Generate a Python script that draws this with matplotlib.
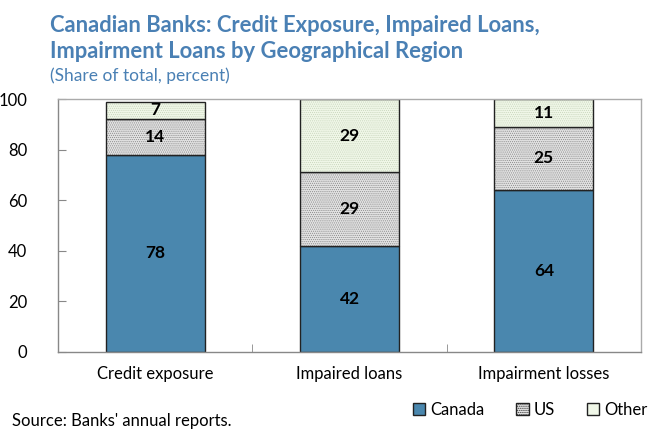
import matplotlib.pyplot as plt
import matplotlib
import numpy as np
from matplotlib.patches import Patch
matplotlib.use('Agg')

plt.rcParams['font.family'] = ['Lato', 'DejaVu Sans']
plt.rcParams['hatch.linewidth'] = 0.5

categories = ["Credit exposure", "Impaired loans", "Impairment losses"]
canada = [78, 42, 64]
us = [14, 29, 25]
other = [7, 29, 11]
yticks = [0, 20, 40, 60, 80, 100]

blue = "#4a87ae"
title_blue = "#4a80b4"
us_face, us_hatch = "#e2e2e2", "#8a8a8a"
oth_face, oth_hatch = "#f0f7e8", "#c9d6bd"

fig = plt.figure(figsize=(6.49, 4.30), dpi=100)
ax = fig.add_axes([58/649, 1-352/430, 583/649, 253/430])

x = np.arange(len(categories))
w = 0.51
canada = np.array(canada)
us = np.array(us)
other = np.array(other)

ax.bar(x, canada, w, color=blue, edgecolor="#222222", linewidth=1.0)
# tarama rengi edgecolor'dan geliyor, o yüzden çerçeveyi ayrı çiziyoruz
ax.bar(x, us, w, bottom=canada, color=us_face, edgecolor=us_hatch,
       linewidth=0, hatch="........")
ax.bar(x, us, w, bottom=canada, fill=False, edgecolor="#222222", linewidth=1.0)
ax.bar(x, other, w, bottom=canada+us, color=oth_face, edgecolor=oth_hatch,
       linewidth=0, hatch="........")
ax.bar(x, other, w, bottom=canada+us, fill=False, edgecolor="#222222", linewidth=1.0)

# etiketler
for i in range(len(categories)):
    ax.text(x[i], canada[i]/2, str(canada[i]), ha="center", va="center",
            fontsize=12.5, fontweight="bold", color="black")
    ax.text(x[i], canada[i]+us[i]/2, str(us[i]), ha="center", va="center",
            fontsize=12.5, fontweight="bold", color="black")
    ax.text(x[i], canada[i]+us[i]+other[i]/2, str(other[i]), ha="center", va="center",
            fontsize=12.5, fontweight="bold", color="black")

ax.set_xlim(-0.5, 2.5)
ax.set_ylim(0, 100)
ax.set_yticks(yticks)
ax.set_yticklabels([str(t) for t in yticks], fontsize=12)
ax.tick_params(axis="y", direction="in", length=6, color="#888888", pad=22)
ax.set_xticks(x)
ax.set_xticklabels(categories, fontsize=12)
ax.tick_params(axis="x", length=0, pad=10)
ax.set_xticks([0.5, 1.5], minor=True)
ax.tick_params(axis="x", which="minor", direction="in", length=6, color="#888888")
for s in ax.spines.values():
    s.set_color("#aaaaaa")
    s.set_linewidth(1.0)
ax.spines["left"].set_color("#888888")
ax.spines["bottom"].set_color("#888888")

fig.text(50/649, 1-26/430, "Canadian Banks: Credit Exposure, Impaired Loans,",
         fontsize=15.8, fontweight="bold", color=title_blue, va="center")
fig.text(50/649, 1-52/430, "Impairment Loans by Geographical Region",
         fontsize=15.8, fontweight="bold", color=title_blue, va="center")
fig.text(50/649, 1-76/430, "(Share of total, percent)",
         fontsize=12.5, color=title_blue, va="center")

handles = [Patch(facecolor=blue, edgecolor="#222222", label="Canada"),
           Patch(facecolor=us_face, edgecolor="#222222", hatch="........", label="US"),
           Patch(facecolor=oth_face, edgecolor="#222222", label="Other")]
fig.legend(handles=handles, loc="center right", bbox_to_anchor=(1.0, 1-410/430),
           ncol=3, frameon=False, fontsize=12, handlelength=0.75, handleheight=0.75,
           handletextpad=0.3, columnspacing=1.9, borderaxespad=0, borderpad=0.1)

fig.text(12/649, 1-421/430, "Source: Banks' annual reports.", fontsize=12, va="center")

plt.savefig("out.png", dpi=100)
